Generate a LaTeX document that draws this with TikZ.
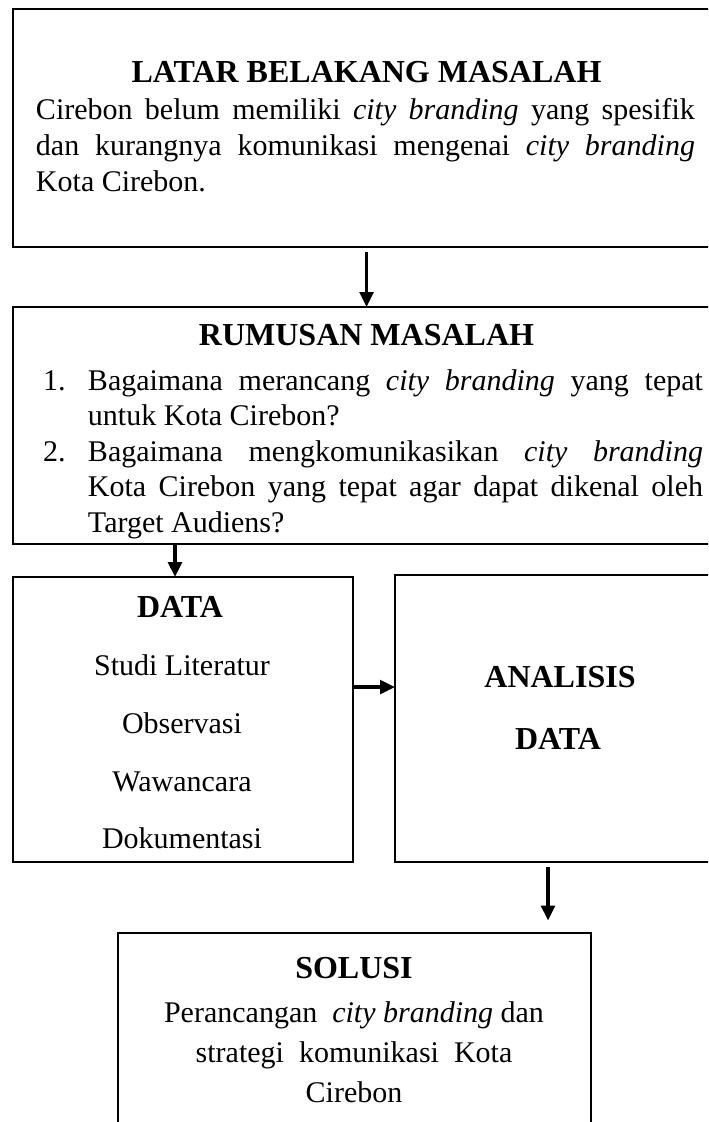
\documentclass[tikz,border=0pt]{standalone}
\usepackage{fontspec}
\setmainfont{Liberation Serif}
\usetikzlibrary{arrows.meta}
\tikzset{
  box/.style={draw, line width=1.1pt, rectangle, inner sep=0pt, outer sep=0pt, anchor=north west},
  txt/.style={inner sep=0pt, outer sep=0pt, font=\fontsize{12}{14.4}\selectfont},
  ttl/.style={txt, font=\fontsize{12.8}{14.4}\selectfont\bfseries, anchor=base},
  arr/.style={line width=1.3pt, -{Triangle[length=6pt,width=5.5pt]}}
}
\begin{document}
\begin{tikzpicture}[x=0.4pt,y=-0.4pt]
\useasboundingbox (0,0) rectangle (708,1122);
\clip (0,0) rectangle (708,1122);
% boxes
\node[box, minimum width=282.8pt, minimum height=95.2pt] (latar) at (13,9) {};
\node[box, minimum width=282.8pt, minimum height=94.8pt] (rumusan) at (13,307) {};
\node[box, minimum width=136pt, minimum height=114pt] (data) at (13,577) {};
\node[box, minimum width=130pt, minimum height=114.8pt] (analisis) at (395,575) {};
\node[box, minimum width=189.2pt, minimum height=83.6pt] (solusi) at (118,933) {};
% latar belakang
\node[ttl] (t1) at (366.5,82) {LATAR BELAKANG MASALAH};
\node[txt, anchor=base west, text width=263.6pt, align=justify] (b1) at (36,119)
  {Cirebon belum memiliki \textit{city branding} yang spesifik\linebreak
   dan kurangnya komunikasi mengenai \textit{city branding}\linebreak
   Kota Cirebon.};
% rumusan
\node[ttl] (t2) at (366.5,345) {RUMUSAN MASALAH};
\node[txt, anchor=base west] (n1) at (43,390) {1.};
\node[txt, anchor=base west, text width=246pt, align=justify,
  font=\fontsize{12}{14.2}\selectfont] (i1) at (88,390)
  {Bagaimana merancang \textit{city branding} yang tepat\linebreak
   untuk Kota Cirebon?};
\node[txt, anchor=base west] (n2) at (43,461) {2.};
\node[txt, anchor=base west, text width=246pt, align=justify,
  font=\fontsize{12}{14.2}\selectfont] (i2) at (88,461)
  {Bagaimana mengkomunikasikan \textit{city branding}\linebreak
   Kota Cirebon yang tepat agar dapat dikenal oleh\linebreak
   Target Audiens?};
% data
\node[ttl] (t3) at (180,617) {DATA};
\node[txt, anchor=base] (d1) at (182,675) {Studi Literatur};
\node[txt, anchor=base] (d2) at (182,733) {Observasi};
\node[txt, anchor=base] (d3) at (182,791) {Wawancara};
\node[txt, anchor=base] (d4) at (182,848) {Dokumentasi};
% analisis
\node[ttl] (t4) at (560,687) {ANALISIS};
\node[ttl] (t5) at (558,749) {DATA};
% solusi
\node[ttl] (t6) at (354,978) {SOLUSI};
\node[txt, anchor=base] (s1) at (354,1022) {Perancangan \ \textit{city branding} dan};
\node[txt, anchor=base] (s2) at (354,1062) {strategi \ komunikasi \ Kota};
\node[txt, anchor=base] (s3) at (354,1102) {Cirebon};
% connectors
\draw[arr, shorten <=2pt] (latar.south) -- (rumusan.north);
\draw[arr] (rumusan.south -| 175,0) -- (data.north -| 175,0);
\draw[arr] (data.east |- 0,687) -- (analisis.west |- 0,687);
\draw[arr, shorten <=2pt, shorten >=5pt] (analisis.south -| 548,0) -- (solusi.north -| 548,0);
\end{tikzpicture}
\end{document}
